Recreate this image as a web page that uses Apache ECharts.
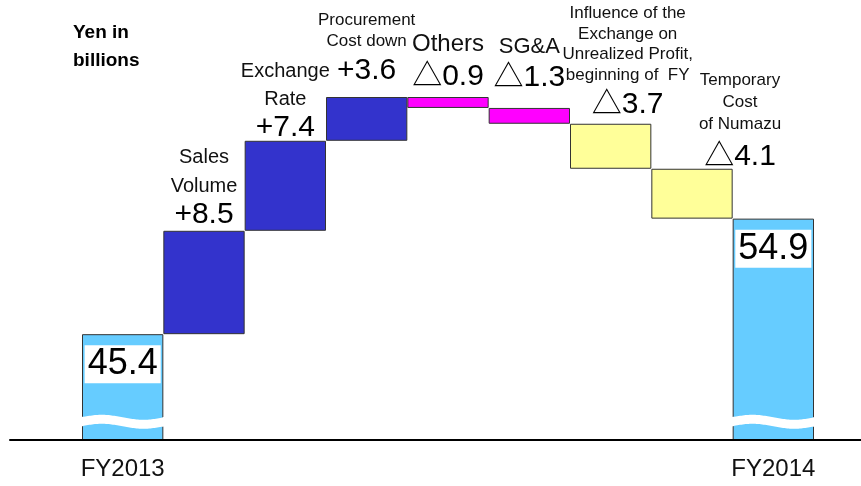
<!DOCTYPE html>
<html>
<head>
<meta charset="utf-8">
<script src="https://cdn.jsdelivr.net/npm/echarts@6/dist/echarts.min.js"></script>
<style>
  html, body { margin: 0; padding: 0; background: #fff; }
  #chart { width: 861px; height: 486px; }
</style>
</head>
<body>
<div id="chart"></div>
<script>
// Operating income bridge, FY2013 -> FY2014 (yen in billions)
const categories = [
  'FY2013',
  'Sales\nVolume',
  'Exchange\nRate',
  'Procurement\nCost down',
  'Others',
  'SG&A',
  'Influence of the\nExchange on\nUnrealized Profit,\nbeginning of  FY',
  'Temporary\nCost\nof Numazu',
  'FY2014'
];
const axisLabels = ['FY2013', '', '', '', '', '', '', '', 'FY2014'];
const startTotal = 45.4;
const endTotal = 54.9;
const changes = [8.5, 7.4, 3.6, -0.9, -1.3, -3.7, -4.1];

// Broken value axis: the totals are cut off below this range
const axisMin = 36.7;
const axisMax = 64.9;
const breakValue = 38.2;

const FONT = "'Liberation Sans', 'Noto Sans CJK JP', sans-serif";

// Invisible stack base + visible segment for each column
const baseData = [axisMin];
const barData = [startTotal - axisMin];
const labelValues = [startTotal.toFixed(1)];
let running = startTotal;
changes.forEach(c => {
  if (c >= 0) {
    baseData.push(running);
    barData.push(c);
    labelValues.push('+' + c.toFixed(1));
  } else {
    baseData.push(+(running + c).toFixed(1));
    barData.push(-c);
    labelValues.push('\u25B3' + (-c).toFixed(1));
  }
  running = +(running + c).toFixed(1);
});
baseData.push(axisMin);
barData.push(endTotal - axisMin);
labelValues.push(endTotal.toFixed(1));

const colors = ['#66CCFF', '#3333CC', '#3333CC', '#3333CC', '#FF00FF', '#FF00FF', '#FFFF99', '#FFFF99', '#66CCFF'];

// Per-column label typography and placement
const labelStyles = {
  1: { nf: 20, nL: 29, vL: 28, dist: 2, dx: 0 },
  2: { nf: 20, nL: 28, vL: 28, dist: -1, dx: 0 },
  3: { nf: 17, nL: 21, vL: 37, dist: 8, dx: 0 },
  4: { nf: 24, nL: 28, vL: 38, dist: 1, dx: 0 },
  5: { nf: 22, nL: 28, vL: 34, dist: 13, dx: 0 },
  6: { nf: 17, nL: 20.5, vL: 39.5, dist: -1, dx: 17 },
  7: { nf: 17, nL: 22, vL: 42, dist: -9, dx: 48 }
};

function labelFor(i) {
  const isTotal = i === 0 || i === categories.length - 1;
  if (isTotal) {
    return {
      show: true,
      position: 'insideTop',
      distance: 11,
      formatter: labelValues[i],
      fontFamily: FONT,
      fontSize: 36,
      lineHeight: 36,
      color: '#000',
      backgroundColor: '#fff',
      padding: [1, 3]
    };
  }
  const s = labelStyles[i];
  const nameLines = categories[i].split('\n').map(t => '{n|' + t + '}').join('\n');
  return {
    show: true,
    position: 'top',
    distance: s.dist,
    offset: [s.dx, 0],
    formatter: nameLines + '\n{v|' + labelValues[i] + '}',
    rich: {
      n: { fontFamily: FONT, fontSize: s.nf, lineHeight: s.nL, color: '#111', align: 'center' },
      v: { fontFamily: FONT, fontSize: 30, lineHeight: s.vL, color: '#000', align: 'center' }
    }
  };
}

const chart = echarts.init(document.getElementById('chart'), null, { renderer: 'canvas' });

chart.setOption({
  animation: false,
  backgroundColor: '#fff',
  title: {
    text: 'Yen in\nbillions',
    left: 73,
    top: 19,
    padding: 0,
    textStyle: { fontFamily: FONT, fontSize: 19, fontWeight: 'bold', lineHeight: 28, color: '#000' }
  },
  grid: [
    { left: 82, right: 47, top: 97, bottom: 46 },
    { left: 10, right: 0, top: 97, bottom: 46 }
  ],
  xAxis: [
    {
      type: 'category',
      gridIndex: 0,
      data: categories,
      axisLine: { show: false },
      axisTick: { show: false },
      axisLabel: {
        interval: 0,
        margin: 17,
        fontFamily: FONT,
        fontSize: 24,
        color: '#111',
        formatter: (v, i) => axisLabels[i]
      }
    },
    {
      type: 'value',
      gridIndex: 1,
      min: 0,
      max: 1,
      z: 10,
      axisLine: { show: true, lineStyle: { color: '#000', width: 2 } },
      axisTick: { show: false },
      axisLabel: { show: false },
      splitLine: { show: false }
    }
  ],
  yAxis: [
    { type: 'value', gridIndex: 0, min: axisMin, max: axisMax, show: false },
    { type: 'value', gridIndex: 1, min: 0, max: 1, show: false }
  ],
  series: [
    {
      type: 'bar',
      stack: 'bridge',
      silent: true,
      barWidth: '100%',
      barCategoryGap: 0,
      itemStyle: { color: 'transparent' },
      data: baseData
    },
    {
      type: 'bar',
      stack: 'bridge',
      barWidth: '100%',
      barCategoryGap: 0,
      data: barData.map((v, i) => ({
        value: v,
        itemStyle: { color: colors[i], borderColor: '#333', borderWidth: 1 },
        label: labelFor(i)
      }))
    },
    {
      // wavy break marks across the two total columns
      type: 'custom',
      xAxisIndex: 0,
      yAxisIndex: 0,
      z: 5,
      silent: true,
      data: [[0, breakValue], [categories.length - 1, breakValue]],
      renderItem(params, api) {
        const c = api.coord([api.value(0), api.value(1)]);
        const w = api.size([1, 0])[0] + 2;
        const x0 = c[0] - w / 2;
        const n = 30, amp = 2.5, half = 4.5;
        const pts = [];
        for (let k = 0; k <= n; k++) {
          const t = k / n;
          pts.push([x0 + w * t, c[1] - half - amp * Math.sin(2 * Math.PI * t)]);
        }
        for (let k = n; k >= 0; k--) {
          const t = k / n;
          pts.push([x0 + w * t, c[1] + half - amp * Math.sin(2 * Math.PI * t)]);
        }
        return { type: 'polygon', shape: { points: pts, smooth: 0.3 }, style: { fill: '#fff' } };
      }
    }
  ]
});
</script>
</body>
</html>
